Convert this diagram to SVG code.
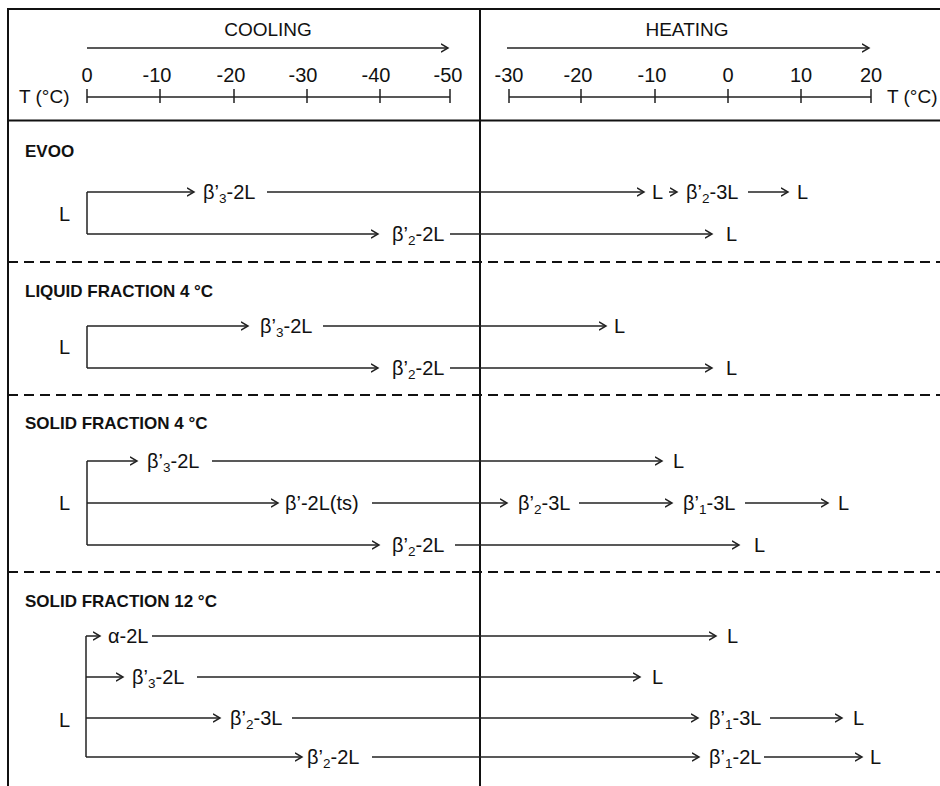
<svg xmlns="http://www.w3.org/2000/svg" width="940" height="786" viewBox="0 0 940 786">
<defs>
<marker id="ah" markerUnits="userSpaceOnUse" markerWidth="10" markerHeight="12" refX="7.5" refY="5" orient="auto">
<path d="M0.5,0.8 L7.5,5 L0.5,9.2" fill="none" stroke="#222" stroke-width="1.5"/>
</marker>
</defs>
<style>
.t{font-family:"Liberation Sans",Arial,sans-serif;font-size:20px;fill:#111}
.k{font-size:19px}
.h{font-family:"Liberation Sans",Arial,sans-serif;font-size:17px;font-weight:bold;fill:#111}
.s{font-size:13.5px}
.c{fill:none;stroke:#222;stroke-width:1.5}
.a{fill:none;stroke:#222;stroke-width:1.5;marker-end:url(#ah)}
.f{fill:none;stroke:#111;stroke-width:2}
.d{fill:none;stroke:#111;stroke-width:2;stroke-dasharray:10 6}
.m{text-anchor:middle}
</style>
<rect width="940" height="786" fill="#fff"/>
<g id="frame">
<path class="f" d="M8,786 V9 H941"/>
<path class="f" d="M480,9 V786"/>
<path class="f" d="M8,120.5 H941" stroke-width="2.6"/>
<path class="d" d="M8,262 H941"/>
<path class="d" d="M8,395 H941"/>
<path class="d" d="M8,572 H941"/>
</g>
<g id="header">
<text class="t k m" x="268" y="36">COOLING</text>
<text class="t k m" x="687" y="36">HEATING</text>
<path class="a" d="M87,48 H448"/>
<path class="a" d="M507,48 H869"/>
<path class="c" d="M87,97 H450 M87,89 V103 M160,89 V103 M234,89 V103 M307,89 V103 M380,89 V103 M450,89 V103"/>
<path class="c" d="M509,97 H871 M509,89 V103 M581,89 V103 M655,89 V103 M728,89 V103 M801,89 V103 M871,89 V103"/>
<text class="t m" x="87" y="82">0</text>
<text class="t m" x="157" y="82">-10</text>
<text class="t m" x="231" y="82">-20</text>
<text class="t m" x="303" y="82">-30</text>
<text class="t m" x="376" y="82">-40</text>
<text class="t m" x="448" y="82">-50</text>
<text class="t m" x="509" y="82">-30</text>
<text class="t m" x="578" y="82">-20</text>
<text class="t m" x="652" y="82">-10</text>
<text class="t m" x="728" y="82">0</text>
<text class="t m" x="801" y="82">10</text>
<text class="t m" x="871" y="82">20</text>
<text class="t k" x="19" y="103">T (°C)</text>
<text class="t k" x="887" y="103">T (°C)</text>
</g>
<g id="connectors">
<path class="c" d="M87,192 V234"/>
<path class="a" d="M87,192 H194"/>
<path class="a" d="M267,192 H644"/>
<path class="a" d="M669,192 H677"/>
<path class="a" d="M748,192 H788"/>
<path class="a" d="M87,234 H378"/>
<path class="a" d="M450,234 H712"/>
<path class="c" d="M87,326 V368"/>
<path class="a" d="M87,326 H248"/>
<path class="a" d="M323,326 H606"/>
<path class="a" d="M87,368 H378"/>
<path class="a" d="M450,368 H712"/>
<path class="c" d="M87,461 V545"/>
<path class="a" d="M87,461 H137"/>
<path class="a" d="M212,461 H662"/>
<path class="a" d="M87,503 H278"/>
<path class="a" d="M372,503 H507"/>
<path class="a" d="M579,503 H672"/>
<path class="a" d="M745,503 H828"/>
<path class="a" d="M87,545 H379"/>
<path class="a" d="M455,545 H739"/>
<path class="c" d="M86,636 V757"/>
<path class="a" d="M86,636 H100"/>
<path class="a" d="M152,636 H716"/>
<path class="a" d="M86,677 H123"/>
<path class="a" d="M197,677 H640"/>
<path class="a" d="M86,718 H220"/>
<path class="a" d="M292,718 H698"/>
<path class="a" d="M770,718 H842"/>
<path class="a" d="M86,757 H302"/>
<path class="a" d="M372,757 H699"/>
<path class="a" d="M764,757 H862"/>
</g>
<g id="evoo">
<text class="h" x="25" y="157">EVOO</text>
<g id="evoo-L0"><text class="t" x="59" y="221">L</text></g>
<g id="evoo-b32L"><text class="t" x="203" y="199">β’<tspan class="s" dy="4">3</tspan><tspan dy="-4">-2L</tspan></text></g>
<g id="evoo-L1"><text class="t" x="652" y="199">L</text></g>
<g id="evoo-b23L"><text class="t" x="686" y="199">β’<tspan class="s" dy="4">2</tspan><tspan dy="-4">-3L</tspan></text></g>
<g id="evoo-L2"><text class="t" x="797" y="199">L</text></g>
<g id="evoo-b22L"><text class="t" x="392" y="241">β’<tspan class="s" dy="4">2</tspan><tspan dy="-4">-2L</tspan></text></g>
<g id="evoo-L3"><text class="t" x="726" y="241">L</text></g>
</g>
<g id="liquid4">
<text class="h" x="25" y="297">LIQUID FRACTION 4 °C</text>
<g id="lq-L0"><text class="t" x="59" y="354">L</text></g>
<g id="lq-b32L"><text class="t" x="260" y="333">β’<tspan class="s" dy="4">3</tspan><tspan dy="-4">-2L</tspan></text></g>
<g id="lq-L1"><text class="t" x="614" y="333">L</text></g>
<g id="lq-b22L"><text class="t" x="392" y="375">β’<tspan class="s" dy="4">2</tspan><tspan dy="-4">-2L</tspan></text></g>
<g id="lq-L2"><text class="t" x="726" y="375">L</text></g>
</g>
<g id="solid4">
<text class="h" x="25" y="429">SOLID FRACTION 4 °C</text>
<g id="s4-L0"><text class="t" x="59" y="510">L</text></g>
<g id="s4-b32L"><text class="t" x="147" y="468">β’<tspan class="s" dy="4">3</tspan><tspan dy="-4">-2L</tspan></text></g>
<g id="s4-L1"><text class="t" x="673" y="468">L</text></g>
<g id="s4-b2Lts"><text class="t" x="285" y="510">β’-2L(ts)</text></g>
<g id="s4-b23L"><text class="t" x="518" y="510">β’<tspan class="s" dy="4">2</tspan><tspan dy="-4">-3L</tspan></text></g>
<g id="s4-b13L"><text class="t" x="683" y="510">β’<tspan class="s" dy="4">1</tspan><tspan dy="-4">-3L</tspan></text></g>
<g id="s4-L2"><text class="t" x="838" y="510">L</text></g>
<g id="s4-b22L"><text class="t" x="392" y="552">β’<tspan class="s" dy="4">2</tspan><tspan dy="-4">-2L</tspan></text></g>
<g id="s4-L3"><text class="t" x="754" y="552">L</text></g>
</g>
<g id="solid12">
<text class="h" x="25" y="607">SOLID FRACTION 12 °C</text>
<g id="s12-L0"><text class="t" x="59" y="727">L</text></g>
<g id="s12-a2L"><text class="t" x="108" y="643">α-2L</text></g>
<g id="s12-L1"><text class="t" x="727" y="643">L</text></g>
<g id="s12-b32L"><text class="t" x="132" y="684">β’<tspan class="s" dy="4">3</tspan><tspan dy="-4">-2L</tspan></text></g>
<g id="s12-L2"><text class="t" x="652" y="684">L</text></g>
<g id="s12-b23L"><text class="t" x="230" y="725">β’<tspan class="s" dy="4">2</tspan><tspan dy="-4">-3L</tspan></text></g>
<g id="s12-b13L"><text class="t" x="709" y="725">β’<tspan class="s" dy="4">1</tspan><tspan dy="-4">-3L</tspan></text></g>
<g id="s12-L3"><text class="t" x="853" y="725">L</text></g>
<g id="s12-b22L"><text class="t" x="307" y="764">β’<tspan class="s" dy="4">2</tspan><tspan dy="-4">-2L</tspan></text></g>
<g id="s12-b12L"><text class="t" x="709" y="764">β’<tspan class="s" dy="4">1</tspan><tspan dy="-4">-2L</tspan></text></g>
<g id="s12-L4"><text class="t" x="870" y="764">L</text></g>
</g>
</svg>
